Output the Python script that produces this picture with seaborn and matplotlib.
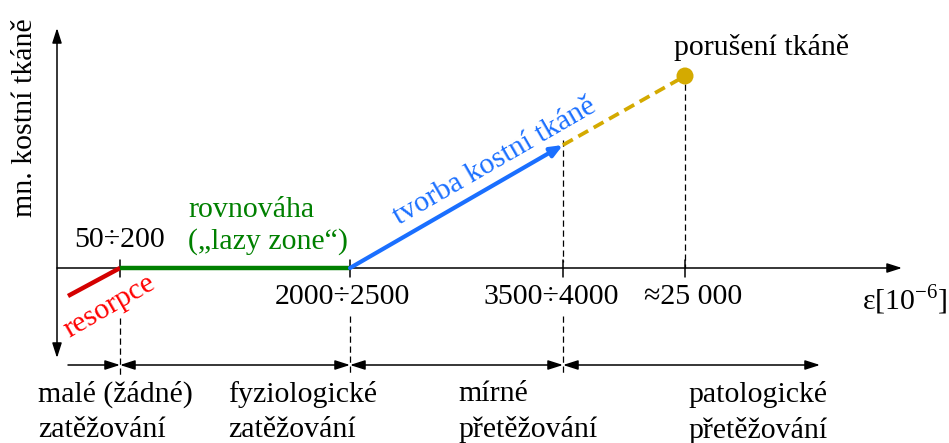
import matplotlib
matplotlib.use("Agg")
import matplotlib.pyplot as plt
import seaborn as sns

# schematic positions (pixel-like units, y grows downwards)
curve_x = [68, 120, 350, 563, 685]
curve_y = [296, 268, 268, 145, 76]
seg_colors = ["#d40000", "#008000", "#1a6fff", "#d4aa00"]

bound_x = [120, 350, 563, 685]
bound_labels = ["50÷200", "2000÷2500", "3500÷4000", "≈25 000"]
bound_label_x = [120, 342, 551, 693]
bound_label_y = [240, 297, 297, 297]

zone_labels = ["malé (žádné)\nzatěžování", "fyziologické\nzatěžování",
               "mírné\npřetěžování", "patologické\npřetěžování"]
zone_label_x = [38, 228, 458, 688]
zone_edges = [68, 120, 350, 563, 820]

axis_y = 268
zone_y = 365

sns.set_theme(style="white")
plt.rcParams['font.family'] = ['Liberation Serif', 'DejaVu Serif']
plt.rcParams['mathtext.fontset'] = 'custom'
plt.rcParams['mathtext.rm'] = 'Liberation Serif'
plt.rcParams['axes.unicode_minus'] = False
plt.rcParams['text.color'] = 'black'

fig = plt.figure(figsize=(9.49, 4.43), dpi=100)
ax = fig.add_axes([0, 0, 1, 1])
ax.set_xlim(0, 949)
ax.set_ylim(443, 0)
ax.axis("off")

fs = 21.5
arrow_kw = dict(arrowstyle="-|>,head_length=0.75,head_width=0.24", color="black", lw=1.1,
                shrinkA=0, shrinkB=0)

# axes
ax.annotate("", xy=(902, axis_y), xytext=(57, axis_y), arrowprops=arrow_kw, zorder=1)
ax.annotate("", xy=(57, 28), xytext=(57, 358), zorder=1,
            arrowprops=dict(arrow_kw, arrowstyle="<|-|>,head_length=0.75,head_width=0.24"))

# zone axis at the bottom
for i in range(len(zone_edges) - 1):
    style = "-|>" if i == 0 else "<|-|>"
    ax.annotate("", xy=(zone_edges[i + 1], zone_y), xytext=(zone_edges[i], zone_y), zorder=1,
                arrowprops=dict(arrow_kw, arrowstyle=style + ",head_length=0.75,head_width=0.24"))

# dashed guide lines
dash = dict(color="black", lw=0.9, linestyle=(0, (5, 3)), zorder=1)
ax.plot([bound_x[0], bound_x[0]], [318, 376], **dash)
ax.plot([bound_x[1], bound_x[1]], [316, 376], **dash)
ax.plot([bound_x[2], bound_x[2]], [140, 262], **dash)
ax.plot([bound_x[2], bound_x[2]], [316, 376], **dash)
ax.plot([bound_x[3], bound_x[3]], [84, axis_y], **dash)

# ticks on the strain axis
for bx in bound_x:
    ax.plot([bx, bx], [260, 277], color="black", lw=1.1, zorder=1)

# curve segments
sns.lineplot(x=curve_x[0:2], y=curve_y[0:2], color=seg_colors[0], lw=3.2, ax=ax,
             solid_capstyle="butt", estimator=None, sort=False, zorder=4)
sns.lineplot(x=curve_x[1:3], y=curve_y[1:3], color=seg_colors[1], lw=3.2, ax=ax,
             solid_capstyle="butt", estimator=None, sort=False, zorder=4)
ax.annotate("", xy=(curve_x[3], curve_y[3]), xytext=(curve_x[2], curve_y[2]), zorder=4,
            arrowprops=dict(arrowstyle="-|>,head_length=0.6,head_width=0.25",
                            color=seg_colors[2], lw=3.0, shrinkA=0, shrinkB=0))
ax.plot(curve_x[3:5], curve_y[3:5], color=seg_colors[3], lw=2.7, linestyle=(0, (3, 1.7)),
        zorder=4)
sns.scatterplot(x=[curve_x[4]], y=[curve_y[4]], color=seg_colors[3], s=150,
                edgecolor="none", ax=ax, zorder=5)

# labels
for lx, ly, lab in zip(bound_label_x, bound_label_y, bound_labels):
    ax.text(lx, ly, lab, fontsize=fs, ha="center", va="center")

for lx, lab in zip(zone_label_x, zone_labels):
    ax.text(lx, 381, lab, fontsize=fs, ha="left", va="top", linespacing=1.45)

ax.text(25, 118, "mn. kostní tkáně", fontsize=fs, rotation=90, ha="center", va="center")
ax.text(905, 300, r"ε[10$^{\mathregular{-6}}$]", fontsize=fs, ha="center", va="center")
ax.text(762, 47, "porušení tkáně", fontsize=fs, ha="center", va="center")
ax.text(188, 210, "rovnováha", fontsize=fs, ha="left", va="center", color="#008000")
ax.text(188, 242, "(„lazy zone“)", fontsize=fs, ha="left", va="center", color="#008000")
ax.text(110, 306, "resorpce", fontsize=fs, ha="center", va="center", color="#ff0000",
        rotation=30, rotation_mode="anchor")
ax.text(495, 162, "tvorba kostní tkáně", fontsize=fs, ha="center", va="center",
        color=seg_colors[2], rotation=30, rotation_mode="anchor")

fig.savefig("out.png", dpi=100)
